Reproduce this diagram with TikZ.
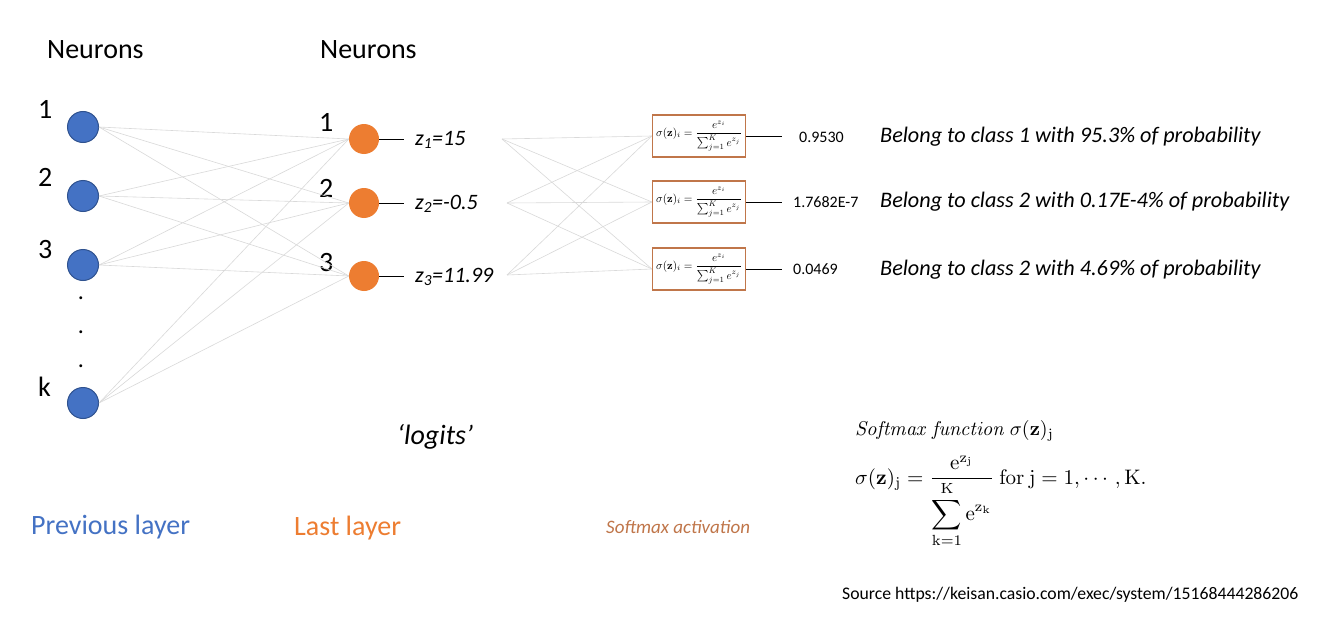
\documentclass[tikz,border=0pt]{standalone}
\usepackage[no-math]{fontspec}
\setmainfont{Carlito}
\usepackage{amsmath}
\usepackage{graphicx}
\definecolor{nblue}{HTML}{4472C4}
\definecolor{nbluedark}{HTML}{2F528F}
\definecolor{norange}{HTML}{ED7D31}
\definecolor{lgray}{HTML}{D9D9D9}
\definecolor{sbrown}{HTML}{C0764A}
\newcommand{\fs}[1]{\fontsize{#1}{#1}\selectfont}
\newcommand{\boxformula}{\resizebox*{86pt}{30pt}{$\displaystyle\sigma(\mathbf{z})_i=\frac{e^{z_i}}{\textstyle\sum_{j=1}^{K}e^{z_j}}$}}
\begin{document}
\begin{tikzpicture}[x=1pt,y=-1pt,
  txt/.style={inner sep=0pt,anchor=west},
  bneuron/.style={circle,fill=nblue,draw=nbluedark,line width=1pt,minimum size=31pt,inner sep=0pt},
  oneuron/.style={circle,fill=norange,minimum size=30pt,inner sep=0pt},
  conn/.style={draw=lgray,line width=0.6pt},
  sbox/.style={draw=sbrown,line width=1.3pt,minimum width=93pt,minimum height=42pt,inner sep=0pt},
  tick/.style={draw=black,line width=0.8pt}]
\useasboundingbox (0,0) rectangle (1320,626);
\fill[white] (0,0) rectangle (1320,626);

% headings
\node[txt,font=\fs{28}] (h1) at (47,50) {Neurons};
\node[txt,font=\fs{28}] (h2) at (320,50) {Neurons};

% previous layer
\node[bneuron] (b1) at (83,127) {};
\node[bneuron] (b2) at (83,196) {};
\node[bneuron] (b3) at (83,265) {};
\node[bneuron] (bk) at (83,403) {};
\node[txt,font=\fs{28}] (lb1) at (38,109) {1};
\node[txt,font=\fs{28}] (lb2) at (38,177) {2};
\node[txt,font=\fs{28}] (lb3) at (38,250) {3};
\node[txt,font=\fs{28}] (lbk) at (38,387) {k};
\node[font=\fs{24},inner sep=0pt] (d1) at (81,298) {.};
\node[font=\fs{24},inner sep=0pt] (d2) at (81,332) {.};
\node[font=\fs{24},inner sep=0pt] (d3) at (81,366) {.};

% last layer
\node[oneuron] (o1) at (364,139) {};
\node[oneuron] (o2) at (364,203) {};
\node[oneuron] (o3) at (364,276) {};
\node[txt,font=\fs{28}] (lo1) at (319,122) {1};
\node[txt,font=\fs{28}] (lo2) at (319,188) {2};
\node[txt,font=\fs{28}] (lo3) at (319,263) {3};

% connections previous -> last
\foreach \b in {b1,b2,b3,bk}{
  \foreach \o in {o1,o2,o3}{
    \draw[conn] (\b.east) -- (\o.west);
  }
}

% logits
\coordinate (t1) at (404,139);
\coordinate (t2) at (404,203);
\coordinate (t3) at (404,276);
\draw[tick] (o1.east) -- (t1);
\draw[tick] (o2.east) -- (t2);
\draw[tick] (o3.east) -- (t3);
\node[txt,font=\fs{22}\itshape] (z1) at (415,140) {z\textsubscript{1}=15};
\node[txt,font=\fs{22}\itshape] (z2) at (415,204) {z\textsubscript{2}=-0.5};
\node[txt,font=\fs{22}\itshape] (z3) at (415,277) {z\textsubscript{3}=11.99};

\coordinate (s1) at (502,139);
\coordinate (s2) at (507,203);
\coordinate (s3) at (507,275);

% softmax boxes
\node[sbox] (m1) at (699,136) {\boxformula};
\node[sbox] (m2) at (699,202) {\boxformula};
\node[sbox] (m3) at (699,269) {\boxformula};

\foreach \s in {s1,s2,s3}{
  \foreach \m in {m1,m2,m3}{
    \draw[conn] (\s) -- (\m.west);
  }
}

% outputs
\coordinate (e1) at (782,136);
\coordinate (e2) at (782,202);
\coordinate (e3) at (782,269);
\draw[tick] (m1.east) -- (e1);
\draw[tick] (m2.east) -- (e2);
\draw[tick] (m3.east) -- (e3);
\node[txt,font=\fs{16}] (v1) at (799,137) {0.9530};
\node[txt,font=\fs{16}] (v2) at (793,202) {1.7682E-7};
\node[txt,font=\fs{16}] (v3) at (793,269) {0.0469};
\node[txt,font=\fs{22.2}\itshape] (c1) at (880,137) {Belong to class 1 with 95.3\% of probability};
\node[txt,font=\fs{22.2}\itshape] (c2) at (880,202) {Belong to class 2 with 0.17E-4\% of probability};
\node[txt,font=\fs{22.2}\itshape] (c3) at (880,270) {Belong to class 2 with 4.69\% of probability};

% bottom labels
\node[txt,font=\fs{28}\itshape] (lg) at (397,437) {‘logits’};
\node[txt,font=\fs{28},text=nblue] (pl) at (31,527) {Previous layer};
\node[txt,font=\fs{28},text=norange] (ll) at (294,528) {Last layer};
\node[txt,font=\fs{19}\itshape,text=sbrown] (sa) at (606,527) {Softmax activation};

% softmax formula
\node[txt,anchor=base west] (sf) at (855,435) {\scalebox{2.0}{$\mathit{Softmax\ function}\ \sigma(\mathbf{z})_{\mathrm{j}}$}};
\node[txt,anchor=base west] (sfm) at (855,484) {\scalebox{2.1}{$\displaystyle\sigma(\mathbf{z})_{\mathrm{j}}=\frac{\mathrm{e}^{\mathrm{z}_{\mathrm{j}}}}{\displaystyle\sum_{\mathrm{k}=1}^{\mathrm{K}}\mathrm{e}^{\mathrm{z}_{\mathrm{k}}}}\ \mathrm{for}\ \mathrm{j}=1,\cdots,\mathrm{K}.$}};

\node[txt,font=\fs{17.7}] (src) at (842,595) {Source https://keisan.casio.com/exec/system/15168444286206};
\end{tikzpicture}
\end{document}
